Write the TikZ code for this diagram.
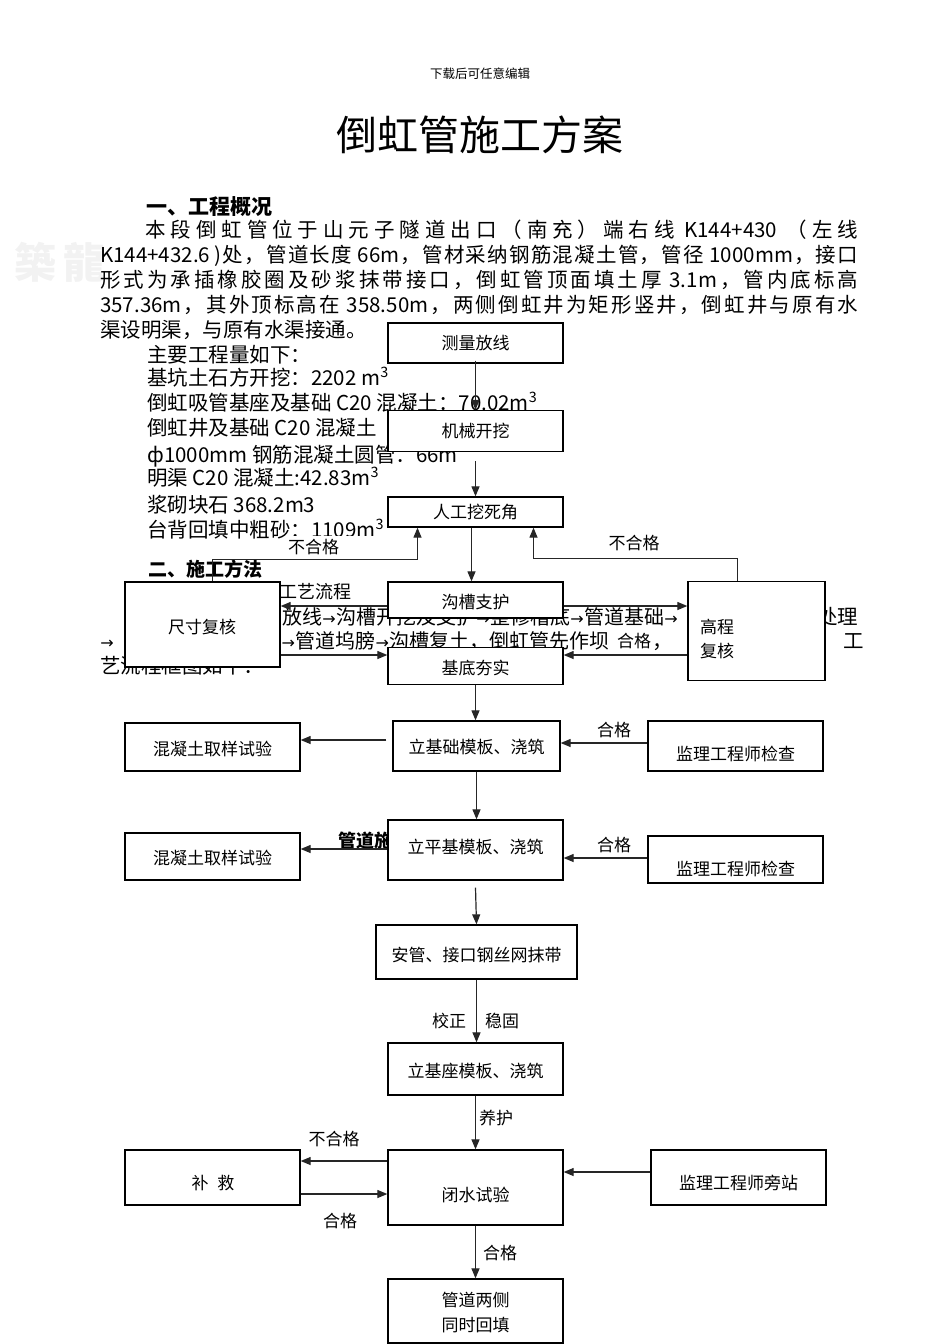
\documentclass[tikz,border=0pt]{standalone}
\usepackage{fontspec}
\setmainfont{Noto Sans CJK SC}
\newfontfamily\arrfont{DejaVu Sans}
\usetikzlibrary{arrows.meta,calc}
\newcommand\fs[1]{\fontsize{#1}{#1}\selectfont}
\newcommand\sra{\makebox[14pt]{\arrfont\fontsize{16}{16}\selectfont →}}
\ExplSyntaxOn
\NewDocumentCommand\jus{mm}{\hbox~to~#1{\tl_map_inline:nn{#2}{##1\hskip 0pt plus 1fil}\unskip}}
\ExplSyntaxOff
\begin{document}
\begin{tikzpicture}[x=1pt,y=-1pt,
  box/.style={draw=black, line width=1.3pt, fill=white, inner sep=0pt},
  arr/.style={line width=1.2pt, draw=black!85, -{Triangle[length=10pt,width=8pt]}},
  btxt/.style={font=\fs{17}, inner sep=0pt},
  lbl/.style={font=\fs{17}, inner sep=0pt},
  body/.style={font=\fs{20.5}, anchor=base west, inner sep=0pt}]
\useasboundingbox (0,0) rectangle (950,1344);

% watermark, header, title
\node[text=black!5, font=\fs{42}\bfseries] (wm) at (60,262) {築\,龍};
\node[font=\fs{12.5}] (hd) at (480,74) {下载后可任意编辑};
\node[font=\fs{41}] (title) at (480,135) {倒虹管施工方案};

% body text
\node[body, font=\fs{21}\bfseries] (h1t) at (146,214.5) {一、工程概况};
\node[body] (t1) at (145,237.5) {\jus{713pt}{本段倒虹管位于山元子隧道出口（南充）端右线{\ K144+430\ }（左线}};
\node[body] (t2) at (100,262.5) {\jus{758pt}{{K144+432.6\ )}处，管道长度{\ 66m}，管材采纳钢筋混凝土管，管径{\ 1000mm}，接口}};
\node[body] (t3) at (100,287.5) {\jus{758pt}{形式为承插橡胶圈及砂浆抹带接口，倒虹管顶面填土厚{\ 3.1m}，管内底标高}};
\node[body] (t4) at (100,312.5) {\jus{758pt}{{357.36m}，其外顶标高在{\ 358.50m}，两侧倒虹井为矩形竖井，倒虹井与原有水}};
\node[body] (t5) at (100,337.5) {渠设明渠，与原有水渠接通。};
\node[body] (t6) at (147,362.5) {主要工程量如下：};
\node[body] (t7) at (147,385.5) {基坑土石方开挖：2202 m\textsuperscript{3}};
\node[body] (t8) at (147,410.5) {倒虹吸管基座及基础 C20 混凝土：70.02m\textsuperscript{3}};
\node[body] (t9) at (147,435.5) {倒虹井及基础 C20 混凝土};
\node[body] (t10) at (147,462.5) {ф1000mm 钢筋混凝土圆管：66m};
\node[body] (t11) at (147,485.5) {明渠 C20 混凝土:42.83m\textsuperscript{3}};
\node[body] (t12) at (147,512.5) {浆砌块石 368.2m3};
\node[body] (t13) at (147,537.5) {台背回填中粗砂：1109m\textsuperscript{3}};
\node[body, font=\fs{19}\bfseries] (h2t) at (148,576) {二、施工方法};
\node[body, font=\fs{18}] (t14) at (279,598.5) {工艺流程};
\node[body, font=\fs{20}] (t15) at (282,624.5) {放线\sra 沟槽开挖及支护\sra 整修槽底\sra 管道基础\sra};
\node[body] (t16) at (817,624.5) {处理};
\node[body] (t17) at (100,648.5) {\sra};
\node[body, font=\fs{20}] (t18) at (281,648.5) {\sra 管道坞膀\sra 沟槽复土，倒虹管先作坝};
\node[body] (t19) at (652,648.5) {，};
\node[body] (t20) at (843,648.5) {工};
\node[body] (t21) at (100,673.5) {艺流程框图如下：};
\node[body, font=\fs{18}\bfseries] (t22) at (338,847) {管道施};

% boxes
\node[box, minimum width=175pt, minimum height=40pt] (cl) at (475.5,343) {};
\node[box, minimum width=175pt, minimum height=41pt] (jx) at (475.5,431) {};
\node[box, minimum width=175pt, minimum height=30pt] (rg) at (475.5,512) {};
\node[box, minimum width=175pt, minimum height=36pt] (gc) at (475.5,600) {};
\node[box, minimum width=155pt, minimum height=85pt] (cc) at (202.5,624.5) {};
\node[box, minimum width=137pt, minimum height=99pt] (gf) at (756.5,631) {};
\node[box, minimum width=175pt, minimum height=37pt] (jd) at (475.5,666) {};
\node[box, minimum width=175pt, minimum height=48pt] (hn1) at (212.5,747) {};
\node[box, minimum width=167pt, minimum height=50pt] (lj) at (476.5,746) {};
\node[box, minimum width=175pt, minimum height=50pt] (s1) at (735.5,746) {};
\node[box, minimum width=175pt, minimum height=47pt] (hn2) at (212.5,856.5) {};
\node[box, minimum width=175pt, minimum height=60pt] (lp) at (475.5,850) {};
\node[box, minimum width=175pt, minimum height=47pt] (s2) at (735.5,859.5) {};
\node[box, minimum width=201pt, minimum height=54pt] (ag) at (476.5,952) {};
\node[box, minimum width=175pt, minimum height=52pt] (lz) at (475.5,1069) {};
\node[box, minimum width=175pt, minimum height=55pt] (bj) at (212.5,1177.5) {};
\node[box, minimum width=175pt, minimum height=75pt] (bs) at (475.5,1187.5) {};
\node[box, minimum width=175pt, minimum height=55pt] (pz) at (738.5,1177.5) {};
\node[box, minimum width=175pt, minimum height=64pt] (ht) at (475.5,1311) {};

% box texts
\node[btxt] (clt) at (475.5,343) {测量放线};
\node[btxt] (jxt) at (475.5,431) {机械开挖};
\node[btxt] (rgt) at (475.5,512) {人工挖死角};
\node[btxt] (gct) at (475.5,602) {沟槽支护};
\node[btxt] (cct) at (202,627) {尺寸复核};
\node[btxt, anchor=west] (gft1) at (700,627) {高程};
\node[btxt, anchor=west] (gft2) at (700,651) {复核};
\node[btxt] (jdt) at (475.5,668) {基底夯实};
\node[btxt] (hn1t) at (212.5,749) {混凝土取样试验};
\node[btxt] (ljt) at (476.5,747) {立基础模板、浇筑};
\node[btxt] (s1t) at (735.5,754) {监理工程师检查};
\node[btxt] (hn2t) at (212.5,858) {混凝土取样试验};
\node[btxt] (lpt) at (475.5,847) {立平基模板、浇筑};
\node[btxt] (s2t) at (735.5,869) {监理工程师检查};
\node[btxt] (agt) at (476.5,955) {安管、接口钢丝网抹带};
\node[btxt] (lzt) at (475.5,1071) {立基座模板、浇筑};
\node[btxt] (bjt) at (213,1183) {补\hspace{9pt}救};
\node[btxt] (bst) at (475.5,1195) {闭水试验};
\node[btxt] (pzt) at (738.5,1183) {监理工程师旁站};
\node[btxt] (htt1) at (475.5,1300) {管道两侧};
\node[btxt] (htt2) at (475.5,1325) {同时回填};

% connectors
\draw[arr] ($(cl.south)+(0,-3)$) -- (jx.north);
\draw[arr] ($(jx.south)+(0,9)$) -- (rg.north);
\draw[arr] ($(rg.south)+(-4,0)$) -- ($(gc.north)+(-4,0)$);
\draw[arr] ($(cc.north)+(10,0)$) -- ++(0,-22) -| ($(rg.south)+(-58,0)$);
\draw[arr] ($(gf.north)+(-19,0)$) -- ++(0,-22) -| ($(rg.south)+(58,0)$);
\draw[arr] ($(gc.west)+(0,6)$) -- ($(cc.east)+(0,-18.5)$);
\draw[arr] ($(gc.east)+(0,6)$) -- ($(gf.west)+(0,-25)$);
\draw[arr] ($(cc.east)+(0,30.5)$) -- ($(jd.west)+(0,-11)$);
\draw[arr] ($(gf.west)+(0,24)$) -- ($(jd.east)+(0,-11)$);
\draw[arr] (jd.south) -- (jd.south |- lj.north);
\draw[arr] ($(lj.west)+(-6,-6)$) -- ($(hn1.east)+(0,-7)$);
\draw[arr] ($(s1.west)+(0,-3)$) -- ($(lj.east)+(0,-3)$);
\draw[arr] (lj.south) -- (lj.south |- lp.north);
\draw[arr] ($(lp.west)+(0,-1)$) -- ($(hn2.east)+(0,-7.5)$);
\draw[arr] ($(s2.west)+(0,-1.5)$) -- ($(lp.east)+(0,8)$);
\draw[arr] ($(lp.south)+(0,7)$) -- (ag.north);
\draw[arr] (ag.south) -- (ag.south |- lz.north);
\draw[arr] (lz.south) -- (bs.north);
\draw[arr] ($(bs.west)+(0,-26.5)$) -- ($(bj.east)+(0,-16.5)$);
\draw[arr] ($(bj.east)+(0,16.5)$) -- ($(bs.west)+(0,6.5)$);
\draw[arr] ($(pz.west)+(0,-5.5)$) -- ($(bs.east)+(0,-15.5)$);
\draw[arr] (bs.south) -- (ht.north);

% labels
\node[lbl, anchor=west, fill=white, minimum height=22pt, text width=96pt, inner xsep=2pt] (l1) at (286,547) {不合格};
\node[lbl] (l2) at (634,543) {不合格};
\node[lbl, fill=white, inner sep=1pt] (l3) at (634,641) {合格};
\node[lbl] (l4) at (614,730) {合格};
\node[lbl] (l5) at (614,845) {合格};
\node[lbl] (l6) at (449,1021) {校正};
\node[lbl] (l7) at (502,1021) {稳固};
\node[lbl] (l8) at (496,1118) {养护};
\node[lbl] (l9) at (334,1139) {不合格};
\node[lbl] (l10) at (340,1221) {合格};
\node[lbl] (l11) at (500,1253) {合格};
\end{tikzpicture}
\end{document}
